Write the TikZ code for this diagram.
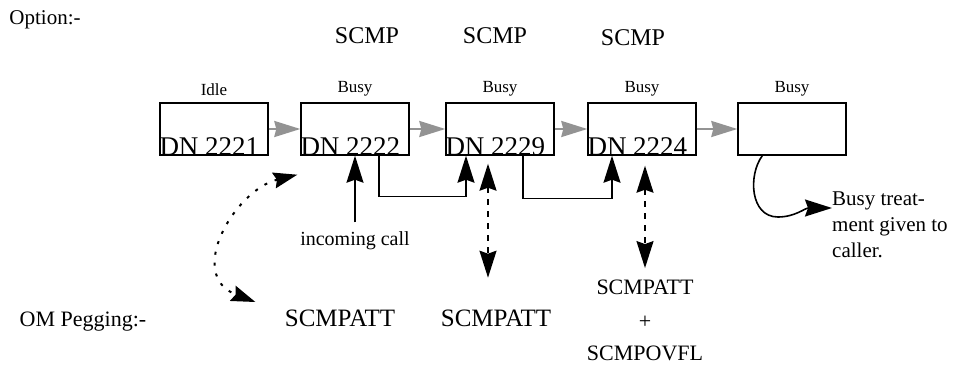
\documentclass[tikz,border=0pt]{standalone}
\usepackage{fontspec}
\setmainfont{Liberation Serif}
\usetikzlibrary{arrows.meta,positioning,calc}
\newcommand{\fsz}[1]{\fontsize{#1}{#1}\selectfont}

\begin{document}
\begin{tikzpicture}[x=1pt,y=-1pt,
    dnbox/.style={draw,line width=1.4pt,minimum width=108pt,minimum height=52pt,inner sep=0pt},
    state/.style={above=3pt,font=\fsz{17}},
    dn/.style={anchor=south west,inner sep=0pt,font=\fsz{27}},
    grayarr/.style={draw=gray!85,line width=2.2pt,-{Stealth[length=26pt,width=16pt,inset=2pt]}},
    blkarr/.style={line width=1.6pt,-{Stealth[length=27pt,width=17pt,inset=3pt]}},
    dblarr/.style={line width=1.8pt,dash pattern=on 6pt off 6pt,{Stealth[length=27pt,width=17pt,inset=3pt]}-{Stealth[length=27pt,width=17pt,inset=3pt]}},
    dotarr/.style={line width=2pt,dash pattern=on 3pt off 8pt,{Stealth[length=24pt,width=16pt,inset=3pt]}-{Stealth[length=24pt,width=16pt,inset=3pt]}},
    peg/.style={font=\fsz{25}}]
    \useasboundingbox (0,0) rectangle (953,366);

    % Option row
    \node[font=\fsz{21}] (opt) at (45,20) {Option:-};
    \node[font=\fsz{24}] (scmp1) at (367,36) {SCMP};
    \node[font=\fsz{24}] (scmp2) at (495,36) {SCMP};
    \node[font=\fsz{24}] (scmp3) at (633,38) {SCMP};

    % DN chain
    \node[dnbox] (b1) at (214,129) {};
    \node[dnbox] (b2) at (355,129) {};
    \node[dnbox] (b3) at (500,129) {};
    \node[dnbox] (b4) at (642,129) {};
    \node[dnbox] (b5) at (792,129) {};
    \node[state] (s1) at (b1.north) {Idle};
    \node[state] (s2) at (b2.north) {Busy};
    \node[state] (s3) at (b3.north) {Busy};
    \node[state] (s4) at (b4.north) {Busy};
    \node[state] (s5) at (b5.north) {Busy};
    \node[dn] (dn1) at (b1.south west) {DN 2221};
    \node[dn] (dn2) at (b2.south west) {DN 2222};
    \node[dn] (dn3) at (b3.south west) {DN 2229};
    \node[dn] (dn4) at (b4.south west) {DN 2224};
    \draw[grayarr] (b1) -- (b2);
    \draw[grayarr] (b2) -- (b3);
    \draw[grayarr] (b3) -- (b4);
    \draw[grayarr] (b4) -- (b5);

    % incoming call and forwarding
    \node[font=\fsz{20}] (inc) at (355,241) {incoming call};
    \draw[blkarr] ([yshift=6pt]inc.north) -- (b2.south);
    \draw[blkarr] ([xshift=24pt]b2.south) -- ++(0,41) -| ([xshift=-34pt]b3.south);
    \draw[blkarr] ([xshift=23pt]b3.south) -- ++(0,43) -| ([xshift=-30pt]b4.south);

    % Busy treatment
    \node[font=\fontsize{21}{26}\selectfont,align=left,anchor=north west,inner sep=0pt] (trt) at (832,192) {Busy treat-\\ment given to\\caller.};
    \draw[blkarr] ([xshift=25pt]b5.south west) .. controls (748,175) and (750,217) .. (778,217)
        .. controls (795,217) and (805,208) .. ([yshift=-16pt]trt.north west);

    % OM pegging
    \node[font=\fsz{22}] (om) at (83,322) {OM Pegging:-};
    \node[peg] (p1) at (340,318) {SCMPATT};
    \node[peg] (p2) at (496,318) {SCMPATT};
    \node[font=\fsz{22}] (p3) at (645,287) {SCMPATT};
    \node[font=\fsz{22}] (plus) at (645,322) {+};
    \node[font=\fsz{22}] (p4) at (645,353) {SCMPOVFL};
    \draw[dotarr] ([shift={(-3,19)}]b2.south west) .. controls (235,190) and (185,275) .. ([shift={(-26,-16)}]p1.west);
    \draw[dblarr] ([xshift=-12pt,yshift=-8pt]b3.south) -- ++(0,114);
    \draw[dblarr] ([xshift=3pt,yshift=-10pt]b4.south) -- ([yshift=8pt]p3.north);
\end{tikzpicture}
\end{document}
